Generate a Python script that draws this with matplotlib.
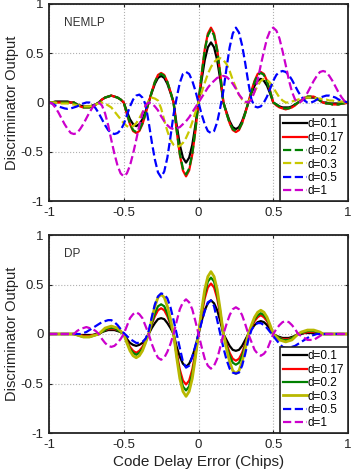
import numpy as np
import matplotlib
matplotlib.use("Agg")
import matplotlib.pyplot as plt

plt.rcParams['font.family'] = ['Liberation Sans', 'DejaVu Sans']

# code delay error grid (chips), 97 samples from -1 to 1
x = np.linspace(-1, 1, 97)

labels = ["d=0.1", "d=0.17", "d=0.2", "d=0.3", "d=0.5", "d=1"]

# ---- NEMLP discriminator outputs ----
nemlp_d01 = [0,
    0.00, 0.01, 0.01, 0.01, 0.01, 0.01, 0.00, 0,
    -0.02, -0.03, -0.04, -0.04, -0.04, -0.03, -0.02, 0,
    0.03, 0.05, 0.06, 0.07, 0.06, 0.05, 0.03, 0,
    -0.09, -0.17, -0.22, -0.24, -0.22, -0.17, -0.09, 0,
    0.10, 0.19, 0.25, 0.27, 0.25, 0.19, 0.10, 0,
    -0.23, -0.43, -0.56, -0.61, -0.56, -0.43, -0.23, 0,
    0.23, 0.43, 0.56, 0.61, 0.56, 0.43, 0.23, 0,
    -0.10, -0.19, -0.25, -0.27, -0.25, -0.19, -0.10, 0,
    0.09, 0.17, 0.22, 0.24, 0.22, 0.17, 0.09, 0,
    -0.02, -0.04, -0.05, -0.05, -0.05, -0.04, -0.02, 0,
    0.02, 0.04, 0.05, 0.05, 0.05, 0.04, 0.02, 0,
    0.00, -0.01, -0.01, -0.01, -0.01, -0.01, 0.00, 0]

nemlp_d017 = [0,
    0, 0, 0, 0, 0, 0, 0, 0,
    -0.02, -0.04, -0.05, -0.05, -0.05, -0.04, -0.02, 0,
    0.03, 0.05, 0.06, 0.07, 0.06, 0.05, 0.03, 0,
    -0.12, -0.22, -0.29, -0.31, -0.29, -0.22, -0.12, 0,
    0.11, 0.21, 0.28, 0.30, 0.28, 0.21, 0.11, 0,
    -0.29, -0.53, -0.69, -0.75, -0.69, -0.53, -0.29, 0,
    0.29, 0.54, 0.70, 0.76, 0.70, 0.54, 0.29, 0,
    -0.11, -0.21, -0.28, -0.30, -0.28, -0.21, -0.11, 0,
    0.12, 0.22, 0.29, 0.31, 0.29, 0.22, 0.12, 0,
    -0.03, -0.05, -0.06, -0.07, -0.06, -0.05, -0.03, 0,
    0.02, 0.04, 0.06, 0.06, 0.06, 0.04, 0.02, 0,
    -0.01, -0.01, -0.02, -0.02, -0.02, -0.01, -0.01, 0]

nemlp_d02 = [0,
    0, 0, 0, 0, 0, 0, 0, 0,
    -0.02, -0.04, -0.05, -0.05, -0.05, -0.04, -0.02, 0,
    0.03, 0.05, 0.06, 0.07, 0.06, 0.05, 0.03, 0,
    -0.11, -0.21, -0.28, -0.30, -0.28, -0.21, -0.11, 0,
    0.11, 0.21, 0.27, 0.29, 0.27, 0.21, 0.11, 0,
    -0.28, -0.52, -0.67, -0.73, -0.67, -0.52, -0.28, 0,
    0.28, 0.53, 0.68, 0.74, 0.68, 0.53, 0.28, 0,
    -0.11, -0.21, -0.27, -0.29, -0.27, -0.21, -0.11, 0,
    0.11, 0.21, 0.28, 0.30, 0.28, 0.21, 0.11, 0,
    -0.02, -0.04, -0.06, -0.06, -0.06, -0.04, -0.02, 0,
    0.02, 0.04, 0.06, 0.06, 0.06, 0.04, 0.02, 0,
    -0.01, -0.01, -0.02, -0.02, -0.02, -0.01, -0.01, 0]

nemlp_d03 = [0.00, 0.00, 0.00, -0.01, -0.01, -0.01, -0.01, -0.02,
    -0.02, -0.03, -0.03, -0.04, -0.04, -0.04, -0.03, -0.02,
    -0.01, 0.00, -0.01, -0.03, -0.05, -0.09, -0.13, -0.17,
    -0.21, -0.24, -0.25, -0.24, -0.21, -0.16, -0.10, -0.04,
    0.02, 0.05, 0.04, 0.02, -0.06, -0.18, -0.29, -0.38,
    -0.43, -0.45, -0.44, -0.41, -0.36, -0.29, -0.20, -0.10,
    0.00,
    0.10, 0.20, 0.29, 0.36, 0.41, 0.44, 0.45, 0.43,
    0.39, 0.32, 0.23, 0.15, 0.08, 0.03, 0.00, 0.01,
    0.05, 0.11, 0.17, 0.22, 0.24, 0.23, 0.20, 0.15,
    0.10, 0.05, 0.02, 0.00, 0.00, 0.01, 0.02, 0.03,
    0.04, 0.05, 0.05, 0.05, 0.05, 0.04, 0.04, 0.03,
    0.03, 0.02, 0.02, 0.01, 0.01, 0.01, 0.00, 0.00]

nemlp_d05 = [0.00, -0.01, -0.03, -0.04, -0.05, -0.06, -0.065, -0.06,
    -0.05, -0.04, -0.02, -0.01, 0.00, 0.00, -0.02, -0.06,
    -0.11, -0.17, -0.23, -0.28, -0.31, -0.32, -0.31, -0.28,
    -0.22, -0.13, -0.04, 0.03, 0.07, 0.08, 0.05, -0.02,
    -0.20, -0.40, -0.58, -0.71, -0.76, -0.70, -0.56, -0.35,
    -0.12, 0.05, 0.20, 0.29, 0.31, 0.29, 0.22, 0.12,
    0.00,
    -0.12, -0.22, -0.29, -0.31, -0.29, -0.20, -0.05, 0.12,
    0.35, 0.56, 0.70, 0.76, 0.71, 0.58, 0.40, 0.20,
    0.03, -0.04, -0.05, -0.04, 0.00, 0.06, 0.14, 0.22,
    0.28, 0.31, 0.32, 0.31, 0.28, 0.23, 0.17, 0.11,
    0.06, 0.02, 0.00, 0.00, 0.01, 0.03, 0.05, 0.06,
    0.07, 0.07, 0.06, 0.05, 0.03, 0.02, 0.01, 0.00]

nemlp_d1 = [0.00, -0.01, -0.05, -0.10, -0.16, -0.22, -0.27, -0.31,
    -0.32, -0.31, -0.27, -0.22, -0.16, -0.10, -0.05, -0.01,
    0.00, -0.03, -0.11, -0.23, -0.38, -0.52, -0.64, -0.72,
    -0.75, -0.72, -0.64, -0.52, -0.38, -0.23, -0.11, -0.03,
    0.00, -0.01, -0.04, -0.08, -0.14, -0.19, -0.23, -0.26,
    -0.27, -0.26, -0.25, -0.22, -0.19, -0.15, -0.10, -0.05,
    0.00,
    0.05, 0.10, 0.15, 0.19, 0.22, 0.25, 0.26, 0.27,
    0.26, 0.23, 0.19, 0.14, 0.08, 0.04, 0.01, 0.00,
    0.03, 0.11, 0.23, 0.38, 0.52, 0.65, 0.73, 0.76,
    0.73, 0.65, 0.52, 0.38, 0.23, 0.11, 0.03, 0.00,
    0.01, 0.05, 0.10, 0.16, 0.22, 0.27, 0.31, 0.32,
    0.31, 0.27, 0.22, 0.16, 0.10, 0.05, 0.01, 0.00]

# ---- DP discriminator outputs ----
dp_d01 = [0,
    0, 0, 0, 0, 0, 0, 0, 0,
    0.00, -0.01, -0.01, -0.01, -0.01, -0.01, 0.00, 0,
    0.02, 0.03, 0.04, 0.04, 0.04, 0.03, 0.02, 0,
    -0.05, -0.09, -0.11, -0.12, -0.11, -0.09, -0.05, 0,
    0.06, 0.11, 0.15, 0.16, 0.15, 0.11, 0.06, 0,
    -0.13, -0.23, -0.30, -0.33, -0.30, -0.23, -0.13, 0,
    0.13, 0.24, 0.31, 0.34, 0.31, 0.24, 0.13, 0,
    -0.06, -0.12, -0.16, -0.17, -0.16, -0.12, -0.06, 0,
    0.05, 0.09, 0.12, 0.13, 0.12, 0.09, 0.05, 0,
    -0.02, -0.03, -0.04, -0.04, -0.04, -0.03, -0.02, 0,
    0.00, 0.01, 0.01, 0.01, 0.01, 0.01, 0.00, 0,
    0, 0, 0, 0, 0, 0, 0, 0]

dp_d017 = [0,
    0, 0, 0, 0, 0, 0, 0, 0,
    -0.01, -0.01, -0.02, -0.02, -0.02, -0.01, -0.01, 0,
    0.02, 0.04, 0.05, 0.05, 0.05, 0.04, 0.02, 0,
    -0.07, -0.13, -0.17, -0.19, -0.17, -0.13, -0.07, 0,
    0.10, 0.18, 0.24, 0.26, 0.24, 0.18, 0.10, 0,
    -0.19, -0.36, -0.47, -0.51, -0.47, -0.36, -0.19, 0,
    0.19, 0.36, 0.47, 0.51, 0.47, 0.36, 0.19, 0,
    -0.10, -0.19, -0.25, -0.27, -0.25, -0.19, -0.10, 0,
    0.07, 0.13, 0.17, 0.19, 0.17, 0.13, 0.07, 0,
    -0.02, -0.04, -0.05, -0.05, -0.05, -0.04, -0.02, 0,
    0.01, 0.01, 0.02, 0.02, 0.02, 0.01, 0.01, 0,
    0, 0, 0, 0, 0, 0, 0, 0]

dp_d02 = [0,
    0, 0, 0, 0, 0, 0, 0, 0,
    -0.01, -0.02, -0.03, -0.03, -0.03, -0.02, -0.01, 0,
    0.02, 0.04, 0.06, 0.06, 0.06, 0.04, 0.02, 0,
    -0.08, -0.15, -0.19, -0.21, -0.19, -0.15, -0.08, 0,
    0.11, 0.21, 0.28, 0.30, 0.28, 0.21, 0.11, 0,
    -0.22, -0.40, -0.53, -0.57, -0.53, -0.40, -0.22, 0,
    0.22, 0.40, 0.53, 0.57, 0.53, 0.40, 0.22, 0,
    -0.12, -0.22, -0.29, -0.31, -0.29, -0.22, -0.12, 0,
    0.08, 0.15, 0.19, 0.21, 0.19, 0.15, 0.08, 0,
    -0.02, -0.04, -0.06, -0.06, -0.06, -0.04, -0.02, 0,
    0.01, 0.02, 0.03, 0.03, 0.03, 0.02, 0.01, 0,
    0, 0, 0, 0, 0, 0, 0, 0]

dp_d03 = [0,
    0, 0, 0, 0, 0, 0, 0, 0,
    -0.01, -0.02, -0.03, -0.03, -0.03, -0.02, -0.01, 0,
    0.03, 0.06, 0.07, 0.08, 0.07, 0.06, 0.03, 0,
    -0.09, -0.17, -0.22, -0.24, -0.22, -0.17, -0.09, 0,
    0.15, 0.28, 0.37, 0.40, 0.37, 0.28, 0.15, 0,
    -0.24, -0.45, -0.58, -0.63, -0.58, -0.45, -0.24, 0,
    0.24, 0.45, 0.58, 0.63, 0.58, 0.45, 0.24, 0,
    -0.15, -0.28, -0.37, -0.40, -0.37, -0.28, -0.15, 0,
    0.09, 0.17, 0.22, 0.24, 0.22, 0.17, 0.09, 0,
    -0.03, -0.06, -0.07, -0.08, -0.07, -0.06, -0.03, 0,
    0.02, 0.03, 0.04, 0.04, 0.04, 0.03, 0.02, 0,
    0, 0, 0, 0, 0, 0, 0, 0]

dp_d05 = [0, 0, 0, 0, 0, 0, 0, 0,
    0, 0, 0.00, 0.01, 0.02, 0.04, 0.06, 0.08,
    0.10, 0.12, 0.13, 0.14, 0.14, 0.12, 0.09, 0.05,
    0.01, -0.02, -0.05, -0.07, -0.09, -0.09, -0.08, -0.05,
    0.03, 0.17, 0.30, 0.38, 0.41, 0.40, 0.36, 0.27,
    0.14, 0.00, -0.14, -0.28, -0.34, -0.32, -0.23, -0.12,
    0.00,
    0.12, 0.23, 0.32, 0.34, 0.28, 0.14, 0.00, -0.14,
    -0.26, -0.35, -0.39, -0.40, -0.39, -0.32, -0.20, -0.06,
    0.04, 0.09, 0.11, 0.11, 0.09, 0.06, 0.02, -0.02,
    -0.06, -0.10, -0.13, -0.14, -0.14, -0.13, -0.12, -0.10,
    -0.08, -0.06, -0.04, -0.02, -0.01, 0.00, 0, 0,
    0, 0, 0, 0, 0, 0, 0, 0]

dp_d1 = [0,
    0, 0, 0, 0, 0, 0, 0, 0,
    0.03, 0.05, 0.06, 0.07, 0.06, 0.05, 0.03, 0,
    -0.05, -0.09, -0.12, -0.13, -0.12, -0.09, -0.05, 0,
    0.08, 0.16, 0.20, 0.22, 0.20, 0.16, 0.08, 0,
    -0.10, -0.18, -0.24, -0.26, -0.24, -0.18, -0.10, 0,
    0.13, 0.25, 0.32, 0.35, 0.32, 0.25, 0.13, 0,
    -0.13, -0.25, -0.32, -0.35, -0.32, -0.25, -0.13, 0,
    0.10, 0.19, 0.25, 0.27, 0.25, 0.19, 0.10, 0,
    -0.08, -0.16, -0.20, -0.22, -0.20, -0.16, -0.08, 0,
    0.05, 0.09, 0.12, 0.13, 0.12, 0.09, 0.05, 0,
    -0.02, -0.04, -0.06, -0.06, -0.06, -0.04, -0.02, 0,
    0, 0, 0, 0, 0, 0, 0, 0]

colors = ["#000000", "#ff0000", "#008000", "#c8c800", "#0000ff", "#cc00cc"]
dp_colors = ["#000000", "#ff0000", "#008000", "#b8b800", "#0000ff", "#cc00cc"]

fig = plt.figure(figsize=(3.52, 4.72), dpi=100)
ax1 = fig.add_axes([49 / 352, 1 - 201 / 472, 299 / 352, 197 / 472])
ax2 = fig.add_axes([49 / 352, 1 - 433 / 472, 299 / 352, 198 / 472])

top_series = [nemlp_d01, nemlp_d017, nemlp_d02, nemlp_d03, nemlp_d05, nemlp_d1]
top_styles = ["-", "-", "--", "--", "--", "--"]
for y, c, ls, lab in zip(top_series, colors, top_styles, labels):
    ax1.plot(x, y, color=c, linestyle=ls, linewidth=1.6, label=lab)

bot_series = [dp_d01, dp_d017, dp_d02, dp_d03, dp_d05, dp_d1]
bot_styles = ["-", "-", "-", "-", "--", "--"]
bot_widths = [1.6, 1.6, 1.6, 2.0, 1.6, 1.6]
for y, c, ls, lw, lab in zip(bot_series, dp_colors, bot_styles, bot_widths, labels):
    ax2.plot(x, y, color=c, linestyle=ls, linewidth=lw, label=lab)

ticks = [-1, -0.5, 0, 0.5, 1]
ticklabels = ["-1", "-0.5", "0", "0.5", "1"]
for ax, name in [(ax1, "NEMLP"), (ax2, "DP")]:
    ax.set_xlim(-1, 1)
    ax.set_ylim(-1, 1)
    ax.set_xticks(ticks)
    ax.set_xticklabels(ticklabels)
    ax.set_yticks(ticks)
    ax.set_yticklabels(ticklabels)
    ax.tick_params(direction="in", length=2, labelsize=9.5, colors="#222222",
                   top=True, right=True, pad=4)
    ax.grid(True, linestyle=":", color="#b0b0b0", linewidth=0.8)
    for s in ax.spines.values():
        s.set_linewidth(1.3)
        s.set_color("#222222")
    ax.set_ylabel("Discriminator Output", fontsize=10.5, color="#222222", labelpad=1)
    ax.text(-0.9, 0.81, name, fontsize=8.5, color="#333333", va="center")
    leg = ax.legend(loc="lower right", fontsize=8.5, handlelength=2.0,
                    handletextpad=0.1, borderaxespad=0, borderpad=0.3,
                    labelspacing=0.12, fancybox=False, framealpha=1)
    leg.get_frame().set_edgecolor("#222222")
    leg.get_frame().set_linewidth(1.2)

ax2.set_xlabel("Code Delay Error (Chips)", fontsize=11, color="#222222", labelpad=3)

fig.savefig("out.png", dpi=100)
